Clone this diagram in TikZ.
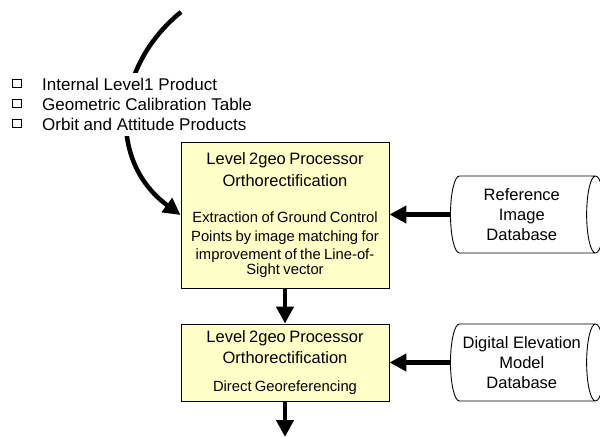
\documentclass[tikz,border=0pt]{standalone}
\usepackage{fontspec}
\setmainfont{Liberation Sans}
\usepackage{xcolor}
\usetikzlibrary{arrows.meta,shapes.geometric}
\definecolor{procfill}{RGB}{255,255,200}
\newcommand{\titlefont}{\fontsize{16.5}{21.5}\selectfont}
\newcommand{\bodyfont}{\fontsize{14.8}{18.5}\selectfont}

\begin{document}
\begin{tikzpicture}[x=1pt,y=-1pt,
  proc/.style={draw,line width=0.9pt,fill=procfill,minimum width=208pt,text width=200pt,align=center,inner sep=4pt},
  db/.style={cylinder,draw,line width=0.9pt,aspect=0.33,minimum width=77pt,minimum height=154pt,inner sep=1pt,align=center,anchor=shape center,font=\fontsize{16.5}{20}\selectfont},
  arr/.style={line width=4.5pt,-{Triangle[length=17pt,width=17pt]}},
  chk/.style={draw,line width=1.3pt,minimum width=9pt,minimum height=8pt,inner sep=0pt},
  item/.style={fill=white,inner xsep=1pt,inner ysep=5pt,anchor=west,font=\fontsize{17}{20}\selectfont}]
\useasboundingbox (0,0) rectangle (600,437);
\node[proc,minimum height=146pt] (lvl) at (285,215) {\titlefont Level 2geo Processor\\Orthorectification\par\vspace{18pt}\bodyfont Extraction of Ground Control\\Points by image matching for\\improvement of the Line-of-\\Sight vector};
\node[proc,minimum height=77pt] (dir) at (285,362.5) {\titlefont Level 2geo Processor\\Orthorectification\par\vspace{16pt}\bodyfont Direct Georeferencing};
\node[db] (refdb) at (527.5,214.5) {Reference\\Image\\Database};
\node[db] (demdb) at (527.5,362.5) {Digital Elevation\\Model\\Database};
\coordinate (src) at (181,12);
\coordinate (out) at (285,437);
\draw[arr] (src) .. controls (112,68) and (108,162) .. (lvl.west);
\draw[arr] (lvl) -- (dir);
\draw[arr] (dir) -- (out);
\draw[arr] (refdb.west) -- (refdb.west -| lvl.east);
\draw[arr] (demdb.west) -- (demdb.west -| dir.east);
\foreach \t [count=\i] in {Internal Level1 Product,Geometric Calibration Table,Orbit and Attitude Products}{
  \node[item] (item\i) at (41,64.5+20*\i) {\t};
  \node[chk] (chk\i) at (17,63.5+20*\i) {};
}
\end{tikzpicture}
\end{document}
